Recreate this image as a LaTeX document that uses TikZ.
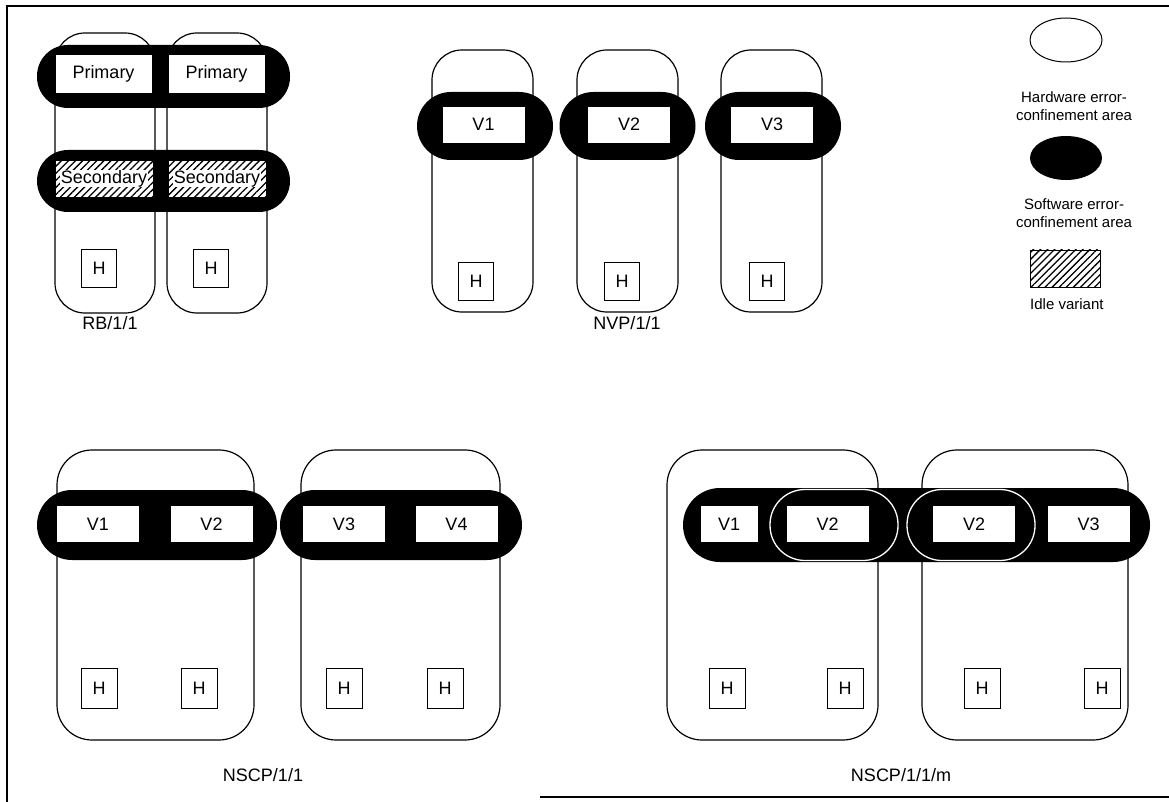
\documentclass[tikz,border=0pt]{standalone}
\usepackage{fontspec}
\setmainfont{Liberation Sans}
\usetikzlibrary{patterns.meta,shapes.geometric}
\begin{document}
\begin{tikzpicture}[x=1pt,y=-1pt,
  txt/.style={font=\fontsize{18}{21}\selectfont},
  legtxt/.style={font=\fontsize{15}{17.5}\selectfont, inner sep=0pt},
  hw/.style={draw, line width=1.2pt, inner sep=0pt, rounded corners=#1},
  hw/.default=30pt,
  sw/.style={fill=black, inner sep=0pt, rounded corners=#1},
  vbox/.style={draw, fill=white, line width=0.8pt, inner sep=0pt, minimum width=83pt, minimum height=37pt, txt},
  hbox/.style={draw, fill=white, line width=0.8pt, inner sep=0pt, minimum width=35pt, minimum height=38pt, txt},
  idle/.style={preaction={fill=white}, pattern={Lines[angle=45,distance=5pt,line width=1.3pt]}},
  lbl/.style={txt, inner sep=0pt}
]
\useasboundingbox (0,0) rectangle (1169,802);
\fill[white] (0,0) rectangle (1169,802);
% frame
\coordinate (f1) at (7,6);
\coordinate (f2) at (1169,6);
\coordinate (f3) at (7,802);
\coordinate (f4) at (540,797);
\coordinate (f5) at (1169,797);
\draw[line width=2pt] (f2) -- (f1) -- (f3);
\draw[line width=2pt] (f4) -- (f5);

% ---------------- RB/1/1
\node[hw, minimum width=100pt, minimum height=280pt] (rbh1) at (105,173) {};
\node[hw, minimum width=100pt, minimum height=280pt] (rbh2) at (217,173) {};
\node[sw=31pt, minimum width=253pt, minimum height=63pt] (rbp) at (163.5,76.5) {};
\node[sw=31pt, minimum width=253pt, minimum height=62pt] (rbs) at (163.5,181) {};
\node[vbox, minimum width=97pt, minimum height=39pt] (rbp1) at (103.5,73.5) {Primary};
\node[vbox, minimum width=97pt, minimum height=39pt] (rbp2) at (216.5,73.5) {Primary};
\node[draw, idle, line width=0.6pt, minimum width=98pt, minimum height=37pt, inner sep=0pt] (rbs1) at (104,178.5) {};
\node[draw, idle, line width=0.6pt, minimum width=98pt, minimum height=37pt, inner sep=0pt] (rbs2) at (217,178.5) {};
\node[fill=white, inner sep=0.6pt, txt] (rbs1t) at (rbs1) {Secondary};
\node[fill=white, inner sep=0.6pt, txt] (rbs2t) at (rbs2) {Secondary};
\node[hbox] (rbH1) at (99,268) {H};
\node[hbox] (rbH2) at (211,268) {H};
\node[lbl] (rbl) at (110,323) {RB/1/1};

% ---------------- NVP/1/1
\foreach \i/\x/\bx/\vx/\hx in {1/482.5/485/483.5/476, 2/627.5/627.5/629/622, 3/771.5/773/772/767}{
  \node[hw, minimum width=101pt, minimum height=262pt] (nvh\i) at (\x,181) {};
  \node[sw=34pt, minimum width=136pt, minimum height=68pt] (nvs\i) at (\bx,126) {};
  \node[vbox] (nvv\i) at (\vx,124.5) {V\i};
  \node[hbox] (nvH\i) at (\hx,281) {H};
}
\node[lbl] (nvl) at (627,323) {NVP/1/1};

% ---------------- legend
\node[draw, line width=1pt, ellipse, minimum width=72pt, minimum height=44pt, inner sep=0pt] (lgh) at (1066,40) {};
\node[legtxt, align=center] (lght) at (1074,106) {Hardware error-\\confinement area};
\node[fill=black, ellipse, minimum width=72pt, minimum height=44pt, inner sep=0pt] (lgs) at (1066,158) {};
\node[legtxt, align=center] (lgst) at (1074,213) {Software error-\\confinement area};
\node[draw, idle, line width=0.8pt, minimum width=70pt, minimum height=37pt, inner sep=0pt] (lgi) at (1065,268.5) {};
\node[legtxt, anchor=west] (lgit) at (1030,304) {Idle variant};

% ---------------- NSCP/1/1
\node[hw=35pt, minimum width=197pt, minimum height=290pt] (nah1) at (155.5,595) {};
\node[hw=35pt, minimum width=199pt, minimum height=290pt] (nah2) at (400.5,595) {};
\node[sw=35pt, minimum width=240pt, minimum height=70pt] (nas1) at (157,525) {};
\node[sw=35pt, minimum width=242pt, minimum height=70pt] (nas2) at (401,525) {};
\node[vbox] (nav1) at (98,524) {V1};
\node[vbox] (nav2) at (211.5,524) {V2};
\node[vbox] (nav3) at (344,524) {V3};
\node[vbox] (nav4) at (456.5,524) {V4};
\node[hbox, minimum width=36pt, minimum height=40pt] (naH1) at (99,688) {H};
\node[hbox, minimum width=36pt, minimum height=40pt] (naH2) at (199,688) {H};
\node[hbox, minimum width=36pt, minimum height=40pt] (naH3) at (344,688) {H};
\node[hbox, minimum width=36pt, minimum height=40pt] (naH4) at (445,688) {H};
\node[lbl] (nal) at (263,775) {NSCP/1/1};

% ---------------- NSCP/1/1/m
\node[hw=35pt, minimum width=211pt, minimum height=290pt] (mh1) at (772.5,595) {};
\node[hw=35pt, minimum width=206pt, minimum height=290pt] (mh2) at (1025,595) {};
\node[sw=37pt, minimum width=467pt, minimum height=74pt] (ms) at (916.5,525) {};
\node[draw=white, line width=1.3pt, rounded corners=35pt, minimum width=128pt, minimum height=71pt, inner sep=0pt] (mi1) at (834,525) {};
\node[draw=white, line width=1.3pt, rounded corners=35pt, minimum width=128pt, minimum height=71pt, inner sep=0pt] (mi2) at (971,525) {};
\node[vbox, minimum width=58pt] (mv1) at (729,524) {V1};
\node[vbox] (mv2) at (827.5,524) {V2};
\node[vbox] (mv3) at (974,524) {V2};
\node[vbox] (mv4) at (1088.5,524) {V3};
\node[hbox, minimum width=36pt, minimum height=40pt] (mH1) at (727,688) {H};
\node[hbox, minimum width=36pt, minimum height=40pt] (mH2) at (845,688) {H};
\node[hbox, minimum width=36pt, minimum height=40pt] (mH3) at (982,688) {H};
\node[hbox, minimum width=36pt, minimum height=40pt] (mH4) at (1102,688) {H};
\node[lbl] (ml) at (901,775) {NSCP/1/1/m};
\end{tikzpicture}
\end{document}
